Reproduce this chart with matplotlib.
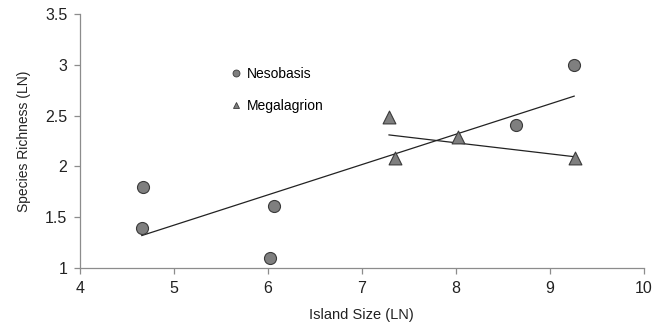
import numpy as np
import matplotlib
matplotlib.use("Agg")
import matplotlib.pyplot as plt
from matplotlib.lines import Line2D

plt.rcParams['font.family'] = ['Liberation Sans', 'DejaVu Sans']

neso_x = [4.66, 4.67, 6.07, 6.02, 8.64, 9.26]
neso_y = [1.39, 1.80, 1.61, 1.10, 2.41, 3.00]
mega_x = [7.29, 7.35, 8.02, 9.27]
mega_y = [2.49, 2.08, 2.29, 2.08]

fig = plt.figure(figsize=(6.65, 3.25), dpi=100)
ax = fig.add_axes([0.120, 0.175, 0.848, 0.782])

face = '#7f7f7f'
edge = '#3a3a3a'

# trend lines
for xs, ys in [(neso_x, neso_y), (mega_x, mega_y)]:
    k, b = np.polyfit(xs, ys, 1)
    xx = np.array([min(xs), max(xs)])
    ax.plot(xx, k * xx + b, color='#222222', lw=0.9, zorder=2)

ax.scatter(neso_x, neso_y, s=75, marker='o', facecolor=face, edgecolor=edge, linewidths=0.8, zorder=3)
ax.scatter(mega_x, mega_y, s=85, marker='^', facecolor=face, edgecolor=edge, linewidths=0.8, zorder=3)

ax.set_xlim(4, 10)
ax.set_ylim(1, 3.5)
ax.set_xticks([4, 5, 6, 7, 8, 9, 10])
ax.set_yticks([1, 1.5, 2, 2.5, 3, 3.5])
ax.set_yticklabels(['1', '1.5', '2', '2.5', '3', '3.5'])

for s in ['top', 'right']:
    ax.spines[s].set_visible(False)
for s in ['left', 'bottom']:
    ax.spines[s].set_color('#8c8c8c')
    ax.spines[s].set_linewidth(0.9)
ax.tick_params(axis='both', direction='out', length=4, width=0.9, color='#8c8c8c',
               labelsize=11.5, labelcolor='#222222')
ax.tick_params(axis='x', pad=5)
ax.tick_params(axis='y', pad=5)

ax.set_xlabel('Island Size (LN)', fontsize=10.5, color='#222222', labelpad=9)
ax.set_ylabel('Species Richness (LN)', fontsize=10, color='#222222', labelpad=10)

handles = [
    Line2D([], [], linestyle='none', marker='o', markersize=5, markerfacecolor=face,
           markeredgecolor=edge, markeredgewidth=0.6, label='Nesobasis'),
    Line2D([], [], linestyle='none', marker='^', markersize=5, markerfacecolor=face,
           markeredgecolor=edge, markeredgewidth=0.6, label='Megalagrion'),
]
ax.legend(handles=handles, loc='upper left', bbox_to_anchor=(0.255, 0.815), frameon=False,
          fontsize=10, labelspacing=1.35, handletextpad=0.3, handlelength=1.0,
          borderaxespad=0)

fig.savefig('out.png', dpi=100)
